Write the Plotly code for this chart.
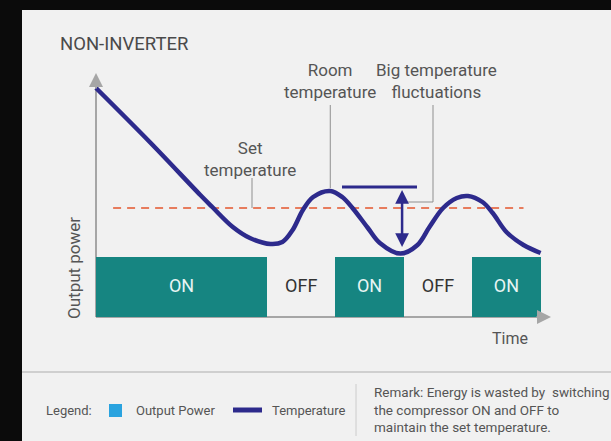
import plotly.graph_objects as go

# ---------------- data ----------------
time_min = [0, 3.2, 6.1, 6.8, 8.0, 9.0, 10.2, 10.9, 11.5, 12.1, 12.7, 13.7, 14.4,
            15.0, 15.9, 16.6, 17.8, 18.8, 19.5, 20.3, 21.1, 21.75, 22.6, 23.2,
            24.0, 25.0, 26.0]
temperature = [30.0, 27.25, 24.65, 24.05, 23.05, 22.5, 22.2, 22.3, 22.9, 23.9,
               24.55, 24.85, 24.55, 24.0, 23.0, 22.25, 21.72, 22.15, 23.05, 24.0,
               24.5, 24.6, 24.3, 23.75, 22.8, 22.15, 21.75]

seg_start = [0, 10, 14, 18, 22]
seg_end = [10, 14, 18, 22, 26]
states = ["ON", "OFF", "ON", "OFF", "ON"]
power = [1, 0, 1, 0, 1]

SET_TEMP = 24
set_span = [1, 25]

remark_lines = ["Remark: Energy is wasted by  switching",
                "the compressor ON and OFF to",
                "maintain the set temperature."]

# ---------------- layout scales ----------------
W, H = 611, 441
X0_PX, PX_PER_MIN = 96, 17.1
Y0_PX, PX_PER_POWER = 317, 60
SET_PX, PX_PER_DEG = 208, 20

def t_of(px):
    return (px - X0_PX) / PX_PER_MIN

def p_of(py):
    return (Y0_PX - py) / PX_PER_POWER

def T_of(py):
    return SET_TEMP + (SET_PX - py) / PX_PER_DEG

def fx(px):
    return px / W

def fy(py):
    return 1 - py / H

FONT = "Roboto"
TXT = "#555555"
NAVY = "#2d2a8c"
TEAL = "#168581"
AX = "#a6a6a6"
PANEL = "#f1f1f1"
FRAME = "#0b0b0b"

centers = [(a + b) / 2 for a, b in zip(seg_start, seg_end)]
widths = [b - a for a, b in zip(seg_start, seg_end)]

fig = go.Figure()

fig.add_trace(go.Bar(
    x=centers, y=power, width=widths, base=0,
    marker=dict(color=TEAL, line=dict(width=0)),
    yaxis="y", hoverinfo="skip", showlegend=False,
))

fig.add_trace(go.Scatter(
    x=centers, y=[max(power) / 2] * len(states), mode="text", text=states,
    textfont=dict(family=FONT, size=18,
                  color=["#e8f5f4" if s == "ON" else "#333333" for s in states]),
    yaxis="y", hoverinfo="skip", showlegend=False,
))

fig.add_trace(go.Scatter(
    x=set_span, y=[SET_TEMP, SET_TEMP], mode="lines",
    line=dict(color="#e4552c", width=1.6, dash="8px,6px"),
    yaxis="y2", hoverinfo="skip", showlegend=False,
))

fig.add_trace(go.Scatter(
    x=time_min, y=temperature, mode="lines",
    line=dict(color=NAVY, width=4.5, shape="spline", smoothing=1.0),
    yaxis="y2", hoverinfo="skip", showlegend=False,
))

# key points derived from the data
peak1_i = max(range(len(time_min)), key=lambda i: temperature[i] if 12 < time_min[i] < 16 else -1e9)
min2_i = min(range(len(time_min)), key=lambda i: temperature[i] if 16 < time_min[i] < 20 else 1e9)
peak_T = temperature[peak1_i]
min_T = temperature[min2_i]
arrow_t = time_min[min2_i] + 0.1

shapes = []
# dark frame (left and top)
shapes.append(dict(type="rect", xref="paper", yref="paper", x0=0, x1=fx(22), y0=0, y1=1,
                   fillcolor=FRAME, line=dict(width=0), layer="below"))
shapes.append(dict(type="rect", xref="paper", yref="paper", x0=0, x1=1, y0=fy(10), y1=1,
                   fillcolor=FRAME, line=dict(width=0), layer="below"))
# footer divider
shapes.append(dict(type="line", xref="paper", yref="paper", x0=fx(22), x1=1, y0=fy(372), y1=fy(372),
                   line=dict(color="#cfcfcf", width=2), layer="below"))
shapes.append(dict(type="line", xref="paper", yref="paper", x0=fx(356), x1=fx(356), y0=fy(384), y1=fy(436),
                   line=dict(color="#cccccc", width=1), layer="below"))
# axes
shapes.append(dict(type="line", xref="x", yref="y", x0=0, x1=t_of(546), y0=0, y1=0,
                   line=dict(color=AX, width=2), layer="below"))
shapes.append(dict(type="line", xref="x", yref="y", x0=0, x1=0, y0=0, y1=p_of(78),
                   line=dict(color=AX, width=2), layer="below"))
# leader lines
LEAD = "#8f8f8f"
shapes.append(dict(type="line", xref="x", yref="y2", x0=t_of(252), x1=t_of(252), y0=T_of(178), y1=SET_TEMP,
                   line=dict(color=LEAD, width=1)))
shapes.append(dict(type="line", xref="x", yref="y2", x0=time_min[peak1_i], x1=time_min[peak1_i],
                   y0=T_of(105), y1=peak_T + 0.15, line=dict(color=LEAD, width=1)))
shapes.append(dict(type="line", xref="x", yref="y2", x0=t_of(433), x1=t_of(433), y0=T_of(105), y1=T_of(202),
                   line=dict(color=LEAD, width=1)))
shapes.append(dict(type="line", xref="x", yref="y2", x0=t_of(406), x1=t_of(433), y0=T_of(202), y1=T_of(202),
                   line=dict(color=LEAD, width=1)))
# fluctuation marker
shapes.append(dict(type="line", xref="x", yref="y2", x0=t_of(342), x1=t_of(417),
                   y0=peak_T + 0.2, y1=peak_T + 0.2, line=dict(color=NAVY, width=3)))
# legend swatches
shapes.append(dict(type="rect", xref="paper", yref="paper", x0=fx(109), x1=fx(122), y0=fy(417), y1=fy(404),
                   fillcolor="#2aa3df", line=dict(width=0)))
shapes.append(dict(type="line", xref="paper", yref="paper", x0=fx(233), x1=fx(262), y0=fy(410), y1=fy(410),
                   line=dict(color=NAVY, width=5)))

ann = []

def txt(text, x, y, size, xanchor="center", color=TXT, **kw):
    ann.append(dict(text=text, xref="paper", yref="paper", x=fx(x), y=fy(y), showarrow=False,
                    xanchor=xanchor, yanchor="middle",
                    font=dict(family=FONT, size=size, color=color), **kw))

txt("NON-INVERTER", 58, 44, 18.5, xanchor="left", color="#4a4a4a")
txt("Room<br>temperature", 330, 81, 17)
txt("Big temperature<br>fluctuations", 436, 81, 17)
txt("Set<br>temperature", 250, 159, 17)
txt("Output power", 74, 268, 17, textangle=-90)
txt("Time", 510, 338, 16)
txt("Legend:", 44, 410, 13, xanchor="left")
txt("Output Power", 134, 410, 13, xanchor="left")
txt("Temperature", 270, 410, 13, xanchor="left")
for i, line in enumerate(remark_lines):
    txt(line, 372, 392 + i * 17.5, 13.5, xanchor="left")

# axis arrowheads
ann.append(dict(x=0, y=p_of(73), ax=0, ay=p_of(90), xref="x", yref="y", axref="x", ayref="y",
                showarrow=True, arrowhead=2, arrowsize=1.4, arrowwidth=2, arrowcolor=AX, text=""))
ann.append(dict(x=t_of(551), y=0, ax=t_of(535), ay=0, xref="x", yref="y", axref="x", ayref="y",
                showarrow=True, arrowhead=2, arrowsize=1.4, arrowwidth=2, arrowcolor=AX, text=""))
# double arrow for fluctuation
ann.append(dict(x=arrow_t, y=peak_T + 0.05, ax=arrow_t, ay=min_T + 0.25, xref="x", yref="y2",
                axref="x", ayref="y2", showarrow=True, arrowhead=2, startarrowhead=2,
                arrowside="end+start", arrowsize=1.1, arrowwidth=2.5, arrowcolor=NAVY, text=""))

fig.update_layout(
    width=W, height=H, margin=dict(l=0, r=0, t=0, b=0),
    paper_bgcolor=PANEL, plot_bgcolor="rgba(0,0,0,0)",
    xaxis=dict(range=[t_of(0), t_of(W)], visible=False, fixedrange=True),
    yaxis=dict(range=[p_of(H), p_of(0)], visible=False, fixedrange=True),
    yaxis2=dict(range=[T_of(H), T_of(0)], visible=False, overlaying="y", fixedrange=True),
    shapes=shapes, annotations=ann, showlegend=False, bargap=0, hovermode=False,
)

fig.write_html("out.html", config={"displayModeBar": False},
               post_script="document.documentElement.style.overflow='hidden';"
                           "document.body.style.margin='0';document.body.style.overflow='hidden';")
